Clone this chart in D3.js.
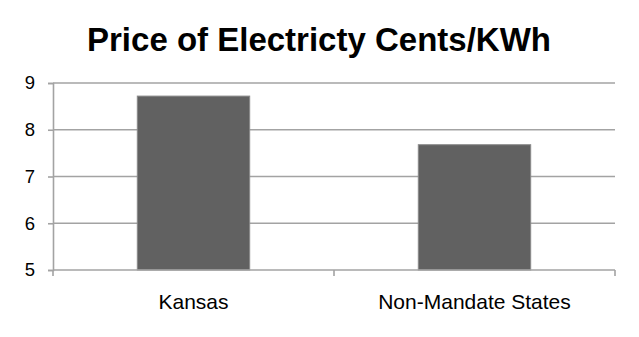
<!DOCTYPE html>
<html>
<head>
<meta charset="utf-8">
<script src="https://cdn.jsdelivr.net/npm/d3@7"></script>
<style>
  html, body { margin: 0; padding: 0; background: #fff; }
  svg { display: block; font-family: "Liberation Sans", Arial, Helvetica, sans-serif; }
</style>
</head>
<body>
<svg id="chart" width="639" height="337"></svg>
<script>
// Average retail electricity price, cents per kWh
const categories = ["Kansas", "Non-Mandate States"];
const prices = [8.72, 7.68];
const yTicks = [5, 6, 7, 8, 9];
const chartTitle = "Price of Electricty Cents/KWh";

const svg = d3.select("#chart");
const margin = { left: 53, right: 24, top: 83, bottom: 67 };
const W = 639, H = 337;

const x = d3.scaleBand()
  .domain(categories)
  .range([margin.left, W - margin.right])
  .paddingInner(0.6)
  .paddingOuter(0.3);

const y = d3.scaleLinear()
  .domain([5, 9])
  .range([H - margin.bottom, margin.top]);

const gridColor = "#a3a3a3";

// Horizontal gridlines
svg.append("g")
  .selectAll("line")
  .data(yTicks.filter(t => t !== 5))
  .join("line")
  .attr("x1", margin.left)
  .attr("x2", W - margin.right)
  .attr("y1", d => y(d))
  .attr("y2", d => y(d))
  .attr("stroke", gridColor)
  .attr("stroke-width", 1.6);

// Y axis
const yAxis = svg.append("g")
  .attr("transform", `translate(${margin.left},0)`)
  .call(d3.axisLeft(y).tickValues(yTicks).tickSize(5).tickPadding(13).tickFormat(d3.format("d")));
yAxis.select(".domain").attr("stroke", gridColor).attr("stroke-width", 1.6);
yAxis.selectAll(".tick line").attr("stroke", gridColor).attr("stroke-width", 1.6);
yAxis.selectAll(".tick text")
  .attr("font-size", 18.5)
  .attr("fill", "#000")
  .attr("font-family", "Liberation Sans, Arial, sans-serif");

// Bars
svg.append("g")
  .selectAll("rect")
  .data(categories.map((c, i) => ({ c, v: prices[i] })))
  .join("rect")
  .attr("x", d => x(d.c))
  .attr("width", x.bandwidth())
  .attr("y", d => y(d.v))
  .attr("height", d => y(5) - y(d.v))
  .attr("fill", "#616161")
  .attr("stroke", "#8a8a8a")
  .attr("stroke-width", 1);

// X axis with ticks at category boundaries
const step = (W - margin.right - margin.left) / categories.length;
const xAxisG = svg.append("g");
xAxisG.append("line")
  .attr("x1", margin.left).attr("x2", W - margin.right)
  .attr("y1", y(5)).attr("y2", y(5))
  .attr("stroke", gridColor).attr("stroke-width", 1.6);
xAxisG.selectAll("line.bt")
  .data(d3.range(categories.length + 1))
  .join("line")
  .attr("class", "bt")
  .attr("x1", i => margin.left + i * step)
  .attr("x2", i => margin.left + i * step)
  .attr("y1", y(5))
  .attr("y2", y(5) + 6)
  .attr("stroke", gridColor).attr("stroke-width", 1.6);
xAxisG.selectAll("text")
  .data(categories)
  .join("text")
  .attr("x", d => x(d) + x.bandwidth() / 2)
  .attr("y", 308.5)
  .attr("text-anchor", "middle")
  .attr("font-size", 21)
  .attr("fill", "#000")
  .text(d => d);

// Title
svg.append("text")
  .attr("x", 319)
  .attr("y", 51)
  .attr("text-anchor", "middle")
  .attr("font-size", 33)
  .attr("font-weight", "bold")
  .attr("fill", "#000")
  .text(chartTitle);
</script>
</body>
</html>
